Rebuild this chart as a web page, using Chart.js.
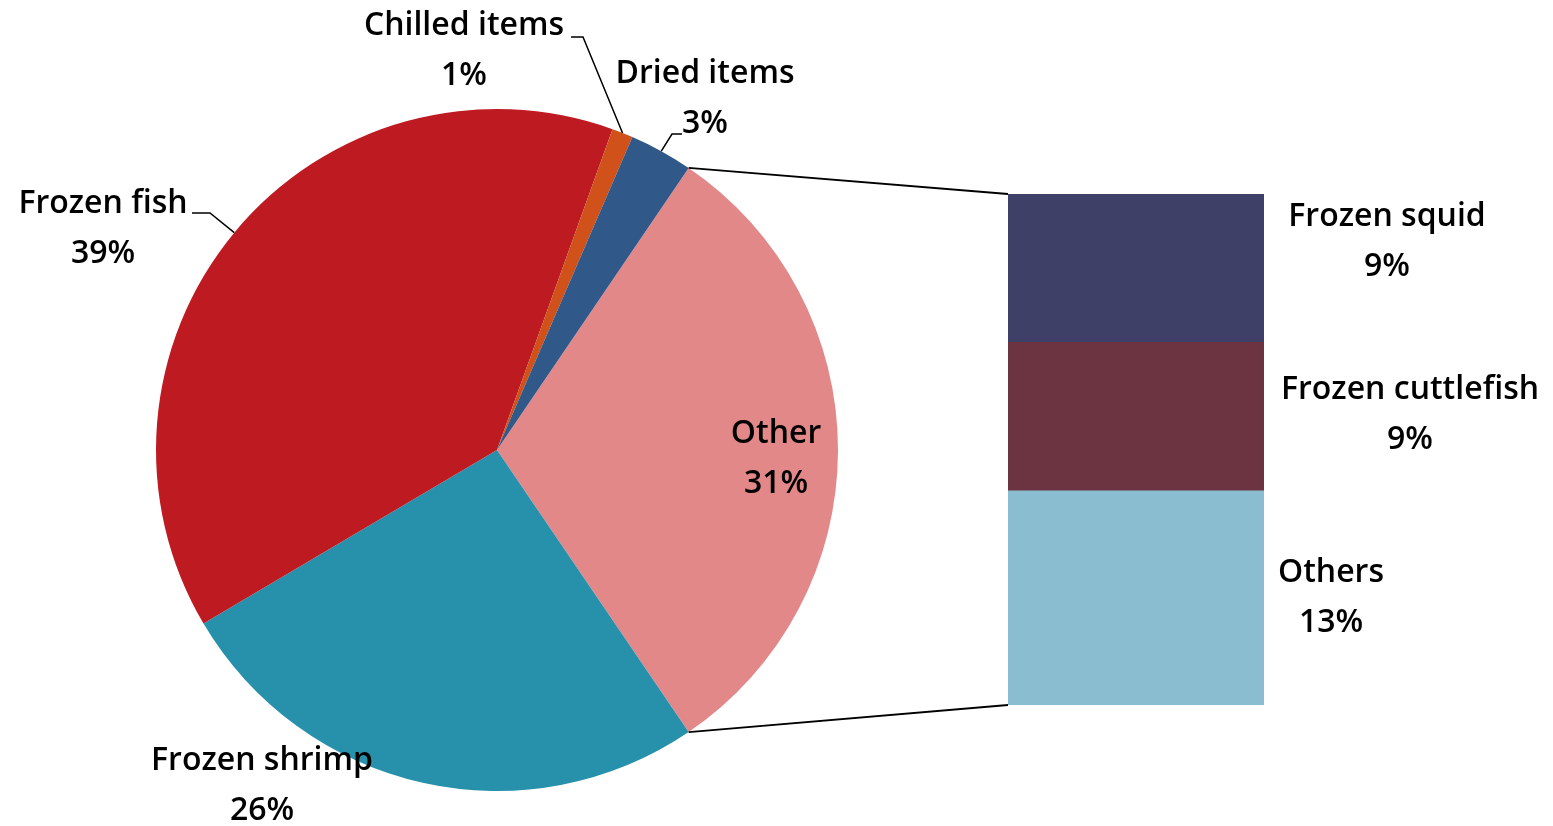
<!DOCTYPE html>
<html>
<head>
<meta charset="utf-8">
<title>Export composition</title>
<script src="https://cdn.jsdelivr.net/npm/chart.js@4.4.1/dist/chart.umd.min.js"></script>
<style>
  html, body { margin: 0; padding: 0; background: #fff; }
  #wrap { position: relative; width: 1553px; height: 826px; }
  #wrap canvas { position: absolute; left: 0; top: 0; }
</style>
</head>
<body>
<div id="wrap">
  <canvas id="pieChart" width="1553" height="826"></canvas>
  <canvas id="barChart" width="1553" height="826"></canvas>
</div>
<script>
// main pie (order = clockwise from the start of "Other")
const pieLabels = ['Other', 'Frozen shrimp', 'Frozen fish', 'Chilled items', 'Dried items'];
const pieValues = [31, 26, 39, 1, 3];
const pieColors = ['#e38889', '#2790ab', '#be1a22', '#d0521a', '#305889'];

// breakdown of "Other" (bottom to top in the stack)
const barLabels = ['Others', 'Frozen cuttlefish', 'Frozen squid'];
const barValues = [13, 9, 9];
const barColors = ['#8bbdd0', '#6b3440', '#3e4068'];

const FONT = '600 32px "Open Sans", "Noto Sans", sans-serif';
const LINE_GAP = 50;

// where each text block sits (centre of the two lines) + leader bends
const pieLabelSpots = {
  'Other':         { x: 776, y: 459 },
  'Frozen shrimp': { x: 262, y: 786 },
  'Frozen fish':   { x: 103, y: 229, bend: [210, 213], end: [192, 213] },
  'Chilled items': { x: 464, y: 51,  bend: [583, 37],  end: [571, 37] },
  'Dried items':   { x: 705, y: 99,  bend: [672, 134], end: [682, 134] }
};
const barLabelSpots = {
  'Frozen squid':      { x: 1387, y: 242 },
  'Frozen cuttlefish': { x: 1410, y: 415 },
  'Others':            { x: 1331, y: 598 }
};

function drawBlock(ctx, name, value, spot) {
  ctx.save();
  ctx.font = FONT;
  ctx.fillStyle = '#000';
  ctx.textAlign = 'center';
  ctx.textBaseline = 'middle';
  ctx.fillText(name, spot.x, spot.y - LINE_GAP / 2);
  ctx.fillText(value + '%', spot.x, spot.y + LINE_GAP / 2);
  ctx.restore();
}

const pieLabelPlugin = {
  id: 'pieLabels',
  afterDatasetsDraw(chart) {
    const ctx = chart.ctx;
    const arcs = chart.getDatasetMeta(0).data;
    arcs.forEach((arc, i) => {
      const spot = pieLabelSpots[pieLabels[i]];
      if (spot.bend) {
        const p = arc.getProps(['x', 'y', 'startAngle', 'endAngle', 'outerRadius'], true);
        const mid = (p.startAngle + p.endAngle) / 2;
        ctx.save();
        ctx.strokeStyle = '#000';
        ctx.lineWidth = 1.5;
        ctx.beginPath();
        ctx.moveTo(p.x + Math.cos(mid) * p.outerRadius, p.y + Math.sin(mid) * p.outerRadius);
        ctx.lineTo(spot.bend[0], spot.bend[1]);
        ctx.lineTo(spot.end[0], spot.end[1]);
        ctx.stroke();
        ctx.restore();
      }
      drawBlock(ctx, pieLabels[i], pieValues[i], spot);
    });
  }
};

const pieChart = new Chart(document.getElementById('pieChart'), {
  type: 'pie',
  data: {
    labels: pieLabels,
    datasets: [{
      data: pieValues,
      backgroundColor: pieColors,
      borderWidth: 0
    }]
  },
  options: {
    responsive: false,
    animation: false,
    rotation: 90 - (pieValues[0] / 100) * 180,
    layout: { padding: { left: 156, right: 715, top: 109, bottom: 35 } },
    plugins: { legend: { display: false }, tooltip: { enabled: false } }
  },
  plugins: [pieLabelPlugin]
});

// connector lines from the "Other" slice to the stacked bar, plus bar labels
const barExtrasPlugin = {
  id: 'barExtras',
  afterDatasetsDraw(chart) {
    const ctx = chart.ctx;
    const arc = pieChart.getDatasetMeta(0).data[0].getProps(['x', 'y', 'startAngle', 'endAngle', 'outerRadius'], true);
    const topBar = chart.getDatasetMeta(barLabels.length - 1).data[0].getProps(['x', 'y', 'width'], true);
    const bottomBar = chart.getDatasetMeta(0).data[0].getProps(['x', 'base', 'width'], true);
    ctx.save();
    ctx.strokeStyle = '#000';
    ctx.lineWidth = 1.8;
    ctx.beginPath();
    ctx.moveTo(arc.x + Math.cos(arc.startAngle) * arc.outerRadius, arc.y + Math.sin(arc.startAngle) * arc.outerRadius);
    ctx.lineTo(topBar.x - topBar.width / 2, topBar.y);
    ctx.moveTo(arc.x + Math.cos(arc.endAngle) * arc.outerRadius, arc.y + Math.sin(arc.endAngle) * arc.outerRadius);
    ctx.lineTo(bottomBar.x - bottomBar.width / 2, bottomBar.base);
    ctx.stroke();
    ctx.restore();
    barLabels.forEach((name, i) => drawBlock(ctx, name, barValues[i], barLabelSpots[name]));
  }
};

new Chart(document.getElementById('barChart'), {
  type: 'bar',
  data: {
    labels: ['Other'],
    datasets: barLabels.map((name, i) => ({
      label: name,
      data: [barValues[i]],
      backgroundColor: barColors[i],
      borderWidth: 0,
      barPercentage: 1,
      categoryPercentage: 1
    }))
  },
  options: {
    responsive: false,
    animation: false,
    layout: { padding: { left: 1008, right: 289, top: 194, bottom: 121 } },
    scales: {
      x: { stacked: true, display: false },
      y: { stacked: true, display: false, min: 0, max: barValues.reduce((a, b) => a + b, 0) }
    },
    plugins: { legend: { display: false }, tooltip: { enabled: false } }
  },
  plugins: [barExtrasPlugin]
});
</script>
</body>
</html>
